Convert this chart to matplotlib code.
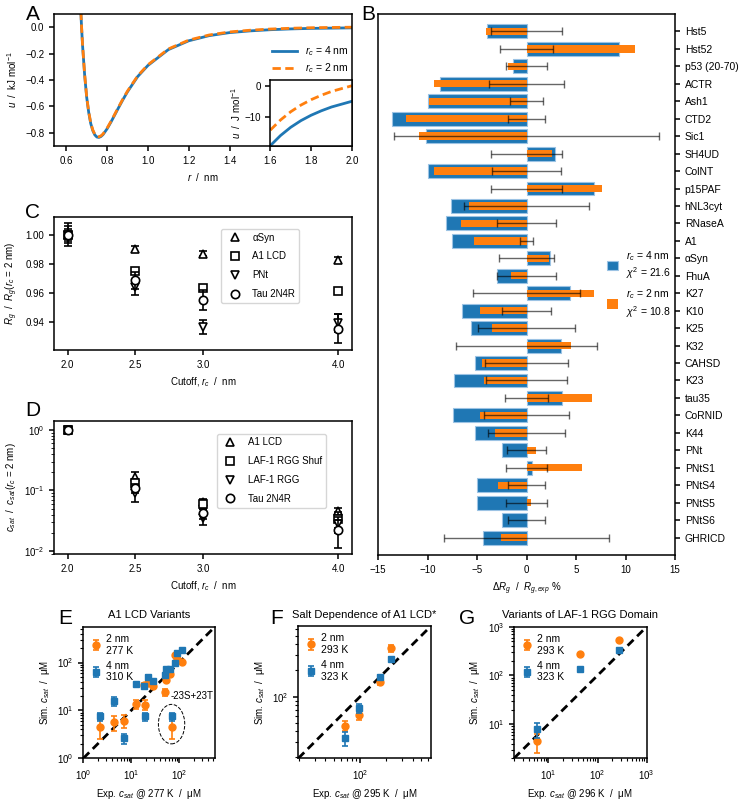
import numpy as np
import matplotlib
matplotlib.use('Agg')
import matplotlib.pyplot as plt
from matplotlib.patches import Ellipse
from matplotlib.ticker import NullFormatter, LogLocator

plt.rcParams['font.family'] = ['Liberation Sans', 'DejaVu Sans']
plt.rcParams['mathtext.fontset'] = 'custom'
plt.rcParams['mathtext.rm'] = 'Liberation Sans'
plt.rcParams['mathtext.it'] = 'Liberation Sans:italic'
plt.rcParams['mathtext.bf'] = 'Liberation Sans:bold'
plt.rcParams['font.size'] = 7
plt.rcParams['axes.linewidth'] = 1.1
plt.rcParams['xtick.major.width'] = 1.1
plt.rcParams['ytick.major.width'] = 1.1

blue = '#1f77b4'
orange = '#ff7f0e'

# ---- panel A: pair potential ----
r_main = [0.66, 0.665, 0.675, 0.68, 0.69, 0.70, 0.71, 0.72, 0.73, 0.74, 0.75, 0.76,
          0.77, 0.78, 0.80, 0.82, 0.85, 0.875, 0.90, 0.95, 1.0, 1.1, 1.2, 1.3, 1.4,
          1.5, 1.6, 1.7, 1.8, 1.9, 2.0]
u_rc4 = [0.55, 0.34, 0.0, -0.14, -0.36, -0.53, -0.645, -0.73, -0.783, -0.816, -0.832,
         -0.835, -0.828, -0.814, -0.770, -0.716, -0.628, -0.556, -0.489, -0.374, -0.29,
         -0.17, -0.103, -0.064, -0.041, -0.028, -0.019, -0.013, -0.009, -0.007, -0.005]
u_rc2 = [0.555, 0.345, 0.005, -0.135, -0.355, -0.525, -0.64, -0.725, -0.778, -0.811,
         -0.827, -0.83, -0.823, -0.809, -0.765, -0.711, -0.623, -0.551, -0.484, -0.369,
         -0.285, -0.165, -0.098, -0.059, -0.036, -0.023, -0.014, -0.008, -0.004, -0.002, 0.0]
r_inset = [1.6, 1.65, 1.7, 1.75, 1.8, 1.85, 1.9, 1.95, 2.0]
u_in_rc4 = [-18.9, -15.7, -13.1, -11.0, -9.3, -7.9, -6.7, -5.8, -4.9]
u_in_rc2 = [-14.0, -10.8, -8.2, -6.1, -4.4, -3.0, -1.8, -0.9, 0.0]

# ---- panel B: Rg deviations ----
proteins = ['Hst5', 'Hst52', 'p53 (20-70)', 'ACTR', 'Ash1', 'CTD2', 'Sic1', 'SH4UD',
            'ColNT', 'p15PAF', 'hNL3cyt', 'RNaseA', 'A1', 'αSyn', 'FhuA', 'K27', 'K10',
            'K25', 'K32', 'CAHSD', 'K23', 'tau35', 'CoRNID', 'K44', 'PNt', 'PNtS1',
            'PNtS4', 'PNtS5', 'PNtS6', 'GHRICD']
dev_rc4 = [-4.0, 9.3, -1.4, -8.7, -9.9, -13.6, -10.2, 2.9, -9.9, 6.85, -7.6, -8.15,
           -7.5, 2.4, -3.0, 4.4, -6.5, -5.6, 3.5, -5.2, -7.35, 3.6, -7.45, -5.2, -2.5,
           0.6, -5.0, -5.0, -2.45, -4.35]
dev_rc2 = [-4.1, 11.0, -1.9, -9.3, -9.8, -12.2, -10.9, 2.6, -9.3, 7.65, -5.8, -6.6,
           -5.3, 2.25, -1.55, 6.8, -4.65, -3.5, 4.5, -4.5, -4.25, 6.65, -4.7, -3.2, 1.0,
           5.65, -2.9, 0.5, 0.0, -2.6]
exp_err = [3.6, 2.65, 2.1, 3.8, 1.7, 1.9, 13.35, 3.6, 3.5, 3.55, 6.35, 3.0, 0.7, 2.8,
           3.0, 5.4, 2.45, 4.9, 7.15, 4.15, 4.1, 2.15, 4.25, 3.85, 2.0, 2.05, 1.85, 2.05,
           1.9, 8.3]

# ---- panel C / D: cutoff dependence ----
cutoff = [2.0, 2.5, 3.0, 4.0]
rg_asyn = [1.0, 0.990, 0.987, 0.9825]
rg_asyn_err = [0.002, 0.002, 0.002, 0.002]
rg_a1 = [1.0, 0.9747, 0.9634, 0.9609]
rg_a1_err = [0.004, 0.002, 0.002, 0.002]
rg_pnt = [1.0, 0.9637, 0.9364, 0.9391]
rg_pnt_err = [0.006, 0.005, 0.005, 0.006]
rg_tau = [1.0, 0.9685, 0.9552, 0.935]
rg_tau_err = [0.008, 0.006, 0.007, 0.01]

cs_a1 = [1.0, 0.165, 0.065, 0.045]
cs_a1_err = [0.05, 0.035, 0.008, 0.006]
cs_shuf = [1.0, 0.135, 0.060, 0.034]
cs_shuf_err = [0.05, 0.02, 0.01, 0.01]
cs_laf = [1.0, 0.090, 0.035, 0.028]
cs_laf_err = [0.05, 0.025, 0.008, 0.008]
cs_tau = [1.0, 0.110, 0.042, 0.022]
cs_tau_err = [0.05, 0.02, 0.008, 0.011]

# ---- panel E: A1 LCD variants ----
e_exp = [2.24, 4.4, 7.2, 12.6, 18.2, 19.0, 22.5, 28.7, 49.6, 54, 63, 69.5, 81.7, 88.7, 112]
e_sim4 = [7.5, 16, 2.6, 35.9, 33, 7.5, 50, 42, 56, 72, 74, 7.5, 100, 155, 182]
e_sim4_err = [1.5, 3.5, 0.6, 4, 3, 1.5, 5, 4, 5, 6, 6, 1.5, 10, 12, 12]
e_sim2 = [4.4, 5.6, 6.1, 13.6, 34, 13.2, 37.7, 32, 23.9, 42.6, 58, 4.6, 141, 120, 105]
e_sim2_err = [1.9, 1.9, 1.9, 3, 3, 3, 3, 3, 3.5, 4, 5, 2.1, 12, 10, 8]
outlier = 11  # -23S+23T

# ---- panel F: salt dependence ----
f_exp = [67, 95.7, 170, 228]
f_sim2 = [46, 61, 149, 361]
f_sim2_err = [6, 7, 12, 35]
f_sim4 = [33, 73, 166, 272]
f_sim4_err = [6, 9, 12, 15]

# ---- panel G: LAF-1 RGG ----
g_exp = [6.0, 43.6, 277]
g_sim2 = [4.5, 274, 532]
g_sim2_err = [1.9, 15, 30]
g_sim4 = [7.9, 133, 332]
g_sim4_err = [2.8, 10, 25]

W, H = 743, 806
fig = plt.figure(figsize=(W / 100, H / 100), dpi=100)


def box(l, t, r, b):
    return [l / W, 1 - b / H, (r - l) / W, (b - t) / H]


def letter(x, y, s):
    fig.text(x / W, 1 - y / H, s, fontsize=15, ha='center', va='center')


# A
axA = fig.add_axes(box(54, 14, 352, 146))
axA.plot(r_main, u_rc4, color=blue, lw=2, label='$r_c$ = 4 nm')
axA.plot(r_main, u_rc2, color=orange, lw=2, ls=(0, (3, 1.6)), label='$r_c$ = 2 nm')
axA.set_xlim(0.54, 2.0)
axA.set_ylim(-0.9, 0.1)
axA.set_xticks([0.6, 0.8, 1.0, 1.2, 1.4, 1.6, 1.8, 2.0])
axA.set_yticks([-0.8, -0.6, -0.4, -0.2, 0.0])
axA.set_xlabel('$r$  /  nm')
axA.set_ylabel('$u$  /  kJ mol$^{-1}$')
axA.legend(loc='upper right', bbox_to_anchor=(1.02, 0.84), frameon=False,
           fontsize=7.5, handlelength=2.4, labelspacing=0.3)
axIn = fig.add_axes(box(270.3, 80, 352, 146))
axIn.plot(r_inset, u_in_rc4, color=blue, lw=2)
axIn.plot(r_inset, u_in_rc2, color=orange, lw=2, ls=(0, (3, 1.6)))
axIn.set_xlim(1.6, 2.0)
axIn.set_ylim(-19.0, 1.8)
axIn.set_xticks([1.6, 1.8, 2.0])
axIn.set_xticklabels([])
axIn.tick_params(axis='x', length=0)
axIn.set_yticks([-10, 0])
axIn.set_ylabel('$u$  /  J mol$^{-1}$', labelpad=1)
letter(33, 15, 'A')

# B
axB = fig.add_axes(box(378, 14, 675, 555))
yy = np.arange(len(proteins))
axB.barh(yy, dev_rc4, height=0.8, color=blue, edgecolor='#9cc3e4', lw=0.8,
         label='$r_c$ = 4 nm\n$\\chi^2$ = 21.6')
axB.barh(yy, dev_rc2, height=0.42, color=orange,
         label='$r_c$ = 2 nm\n$\\chi^2$ = 10.8')
axB.errorbar(np.zeros(len(proteins)), yy, xerr=exp_err, fmt='none', ecolor='k',
             alpha=0.6, capsize=3, elinewidth=1, capthick=1)
axB.set_xlim(-15, 15)
axB.set_ylim(len(proteins), -1)
axB.set_yticks(yy)
axB.set_yticklabels(proteins, fontsize=7.5)
axB.yaxis.tick_right()
axB.set_xticks([-15, -10, -5, 0, 5, 10, 15])
axB.set_xlabel('$\\Delta R_g$  /  $R_{g,exp}$ %')
axB.legend(loc='center left', bbox_to_anchor=(0.74, 0.5), frameon=False, fontsize=7.5,
           handlelength=1.0, handleheight=1.0, labelspacing=0.6)
letter(368, 14, 'B')

# C
axC = fig.add_axes(box(54, 217.3, 352, 350))
mk = dict(ms=6, mfc='white', mec='k', mew=1.2, ls='none')
for vals, errs, m, lab in [(rg_asyn, rg_asyn_err, '^', 'αSyn'),
                           (rg_a1, rg_a1_err, 's', 'A1 LCD'),
                           (rg_pnt, rg_pnt_err, 'v', 'PNt'),
                           (rg_tau, rg_tau_err, 'o', 'Tau 2N4R')]:
    axC.errorbar(cutoff, vals, yerr=errs, fmt='none', ecolor='k', capsize=3,
                 elinewidth=1.2, capthick=1.2)
    axC.plot(cutoff, vals, marker=m, label=lab, **mk)
axC.set_xlim(1.9, 4.1)
axC.set_ylim(0.9205, 1.012)
axC.set_xticks(cutoff)
axC.set_yticks([0.94, 0.96, 0.98, 1.00])
axC.set_xlabel('Cutoff, $r_c$  /  nm')
axC.set_ylabel('$R_g$  /  $R_g(r_c$ = 2 nm$)$')
axC.legend(loc='upper left', bbox_to_anchor=(0.545, 0.95), fontsize=7,
           labelspacing=0.9, handletextpad=0.8)
letter(33, 212, 'C')

# D
axD = fig.add_axes(box(54, 420.7, 352, 554.3))
for vals, errs, m, lab in [(cs_a1, cs_a1_err, '^', 'A1 LCD'),
                           (cs_shuf, cs_shuf_err, 's', 'LAF-1 RGG Shuf'),
                           (cs_laf, cs_laf_err, 'v', 'LAF-1 RGG'),
                           (cs_tau, cs_tau_err, 'o', 'Tau 2N4R')]:
    axD.errorbar(cutoff, vals, yerr=errs, fmt='none', ecolor='k', capsize=3,
                 elinewidth=1.2, capthick=1.2)
    axD.plot(cutoff, vals, marker=m, label=lab, **mk)
axD.set_yscale('log')
axD.set_xlim(1.9, 4.1)
axD.set_ylim(0.0088, 1.42)
axD.set_xticks(cutoff)
axD.set_xlabel('Cutoff, $r_c$  /  nm')
axD.set_ylabel('$c_{sat}$  /  $c_{sat}(r_c$ = 2 nm$)$')
axD.legend(loc='upper left', bbox_to_anchor=(0.53, 0.94), fontsize=7,
           labelspacing=0.9, handletextpad=0.8)
letter(33, 410, 'D')


def scatter_panel(ax, x, y2, e2, y4, e4, lab2, lab4, lims):
    ax.plot(lims, lims, 'k--', lw=2, dashes=(3, 1.8), zorder=1)
    ax.errorbar(x, y2, yerr=e2, fmt='o', color=orange, ms=5, capsize=2.5,
                elinewidth=1.2, capthick=1.2, label=lab2, zorder=2)
    ax.errorbar(x, y4, yerr=e4, fmt='s', color=blue, ms=5, capsize=2.5,
                elinewidth=1.2, capthick=1.2, label=lab4, zorder=3)
    ax.set_xscale('log')
    ax.set_yscale('log')
    ax.set_xlim(lims)
    ax.set_ylim(lims)
    for a in (ax.xaxis, ax.yaxis):
        a.set_minor_locator(LogLocator(base=10, subs=np.arange(2, 10)))
        a.set_minor_formatter(NullFormatter())
    ax.tick_params(which='minor', length=2.5, width=0.8)
    ax.set_ylabel('Sim. $c_{sat}$  /  μM')
    ax.legend(loc='upper left', frameon=False, fontsize=7.5, handlelength=1.0,
              handletextpad=0.5, borderaxespad=0.3, labelspacing=0.5)


# E
axE = fig.add_axes(box(83.3, 626.7, 215, 758.3))
scatter_panel(axE, e_exp, e_sim2, e_sim2_err, e_sim4, e_sim4_err,
              '2 nm\n277 K', '4 nm\n310 K', (1, 560))
axE.set_title('A1 LCD Variants', fontsize=8)
axE.set_xlabel('Exp. $c_{sat}$ @ 277 K  /  μM')
yc = np.sqrt(min(e_sim2[outlier], e_sim4[outlier]) * max(e_sim2[outlier], e_sim4[outlier]))
cx, cy = axE.transAxes.inverted().transform(axE.transData.transform((e_exp[outlier], yc)))
axE.add_patch(Ellipse((cx, cy - 0.02), 0.2, 0.3, transform=axE.transAxes, fill=False,
                      ls='--', lw=0.7, ec='k'))
axE.text(cx - 0.005, cy + 0.19, '-23S+23T', transform=axE.transAxes, fontsize=7,
         va='center', zorder=5)
letter(65, 618, 'E')

# F
axF = fig.add_axes(box(298.3, 626, 431, 758.3))
scatter_panel(axF, f_exp, f_sim2, f_sim2_err, f_sim4, f_sim4_err,
              '2 nm\n293 K', '4 nm\n323 K', (19.5, 650))
axF.set_title('Salt Dependence of A1 LCD*', fontsize=8)
axF.set_xlabel('Exp. $c_{sat}$ @ 295 K  /  μM')
letter(277, 618, 'F')

# G
axG = fig.add_axes(box(514, 626.7, 646.7, 758.3))
scatter_panel(axG, g_exp, g_sim2, g_sim2_err, g_sim4, g_sim4_err,
              '2 nm\n293 K', '4 nm\n323 K', (2, 1000))
axG.set_title('Variants of LAF-1 RGG Domain', fontsize=8)
axG.set_xlabel('Exp. $c_{sat}$ @ 296 K  /  μM')
letter(467, 618, 'G')

fig.savefig('out.png', dpi=100)
